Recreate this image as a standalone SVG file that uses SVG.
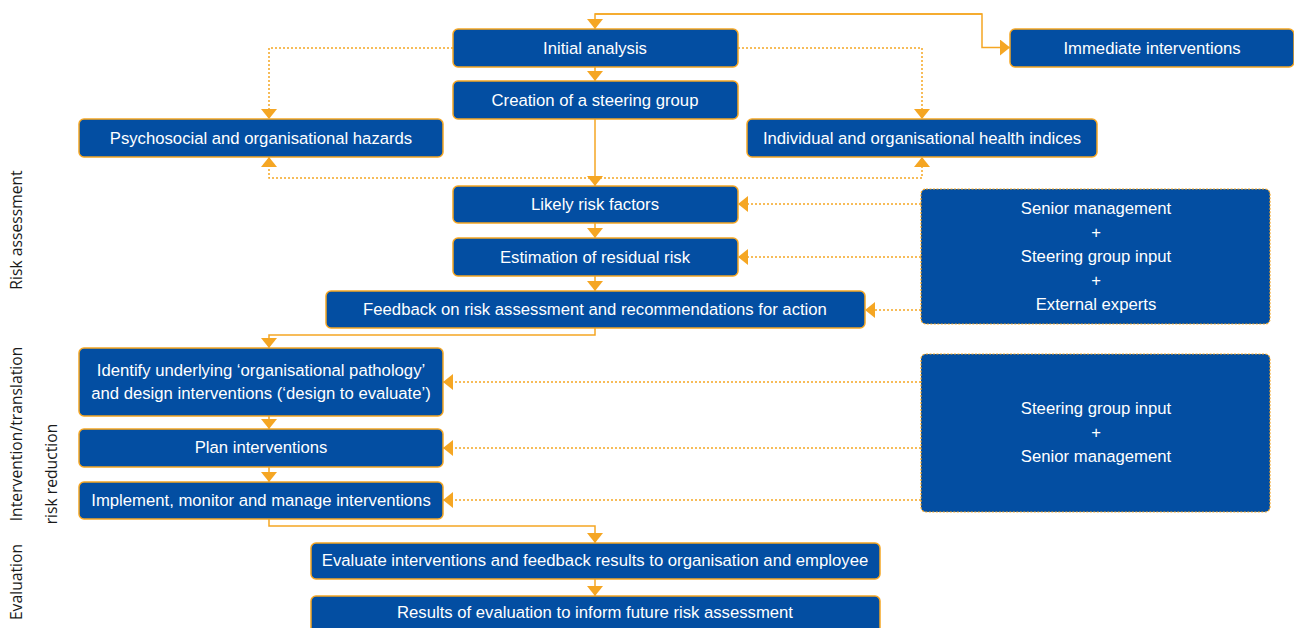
<svg xmlns="http://www.w3.org/2000/svg" width="1294" height="628" viewBox="0 0 1294 628">
<style>
.box{fill:#034EA2;stroke:#F5A623;stroke-width:1.5}
.src{fill:#034EA2;stroke:#F5A623;stroke-width:1.2;stroke-dasharray:2 1.5}
.t{font-family:"Liberation Sans",Arial,sans-serif;font-size:16.7px;fill:#ffffff;text-anchor:middle}
.side{font-family:"Open Sans","Noto Sans",sans-serif;font-size:15.7px;fill:#1a1a1a;text-anchor:middle}
.s{fill:none;stroke:#F5A623;stroke-width:1.5}
.d{fill:none;stroke:#F5A623;stroke-width:1.5;stroke-dasharray:2 2}
</style>
<defs>
<marker id="a" markerUnits="userSpaceOnUse" viewBox="0 0 10 16" markerWidth="10" markerHeight="16" refX="10" refY="8" orient="auto">
<path d="M0,0 L10,8 L0,16 z" fill="#F5A623"/>
</marker>
<marker id="as" markerUnits="userSpaceOnUse" viewBox="0 0 10 16" markerWidth="10" markerHeight="16" refX="10" refY="8" orient="auto-start-reverse">
<path d="M0,0 L10,8 L0,16 z" fill="#F5A623"/>
</marker>
</defs>

<g id="side-labels">
<text class="side" transform="translate(22,230) rotate(-90)">Risk assessment</text>
<text class="side" transform="translate(22,434) rotate(-90)">Intervention/translation</text>
<text class="side" transform="translate(57,474) rotate(-90)">risk reduction</text>
<text class="side" transform="translate(22,582) rotate(-90)">Evaluation</text>
</g>

<g id="connectors">
<path class="s" d="M982,14 H595 V29" marker-end="url(#a)"/>
<path class="s" d="M595,14 H982 V47.5 H1010" marker-end="url(#a)"/>
<path class="s" d="M595,67 V81" marker-end="url(#a)"/>
<path class="d" d="M453,48 H269 V119" marker-end="url(#a)"/>
<path class="d" d="M738,48 H922 V119" marker-end="url(#a)"/>
<path class="s" d="M595,119 V186" marker-end="url(#a)"/>
<path class="d" d="M269,157 V178 H922 V157" marker-start="url(#as)" marker-end="url(#a)"/>
<path class="s" d="M595,223 V238" marker-end="url(#a)"/>
<path class="s" d="M595,276 V291" marker-end="url(#a)"/>
<path class="d" d="M921,204 H738" marker-end="url(#a)"/>
<path class="d" d="M921,257 H738" marker-end="url(#a)"/>
<path class="d" d="M921,310 H865" marker-end="url(#a)"/>
<path class="s" d="M595,328 V335 H269 V348" marker-end="url(#a)"/>
<path class="s" d="M269,416 V429" marker-end="url(#a)"/>
<path class="s" d="M269,467 V482" marker-end="url(#a)"/>
<path class="d" d="M921,382 H443" marker-end="url(#a)"/>
<path class="d" d="M921,448 H443" marker-end="url(#a)"/>
<path class="d" d="M921,500 H443" marker-end="url(#a)"/>
<path class="s" d="M269,519 V526 H595 V543" marker-end="url(#a)"/>
<path class="s" d="M595,579 V596" marker-end="url(#a)"/>
</g>

<g id="initial-analysis"><rect class="box" x="453" y="29" width="285" height="38" rx="5"/><text class="t" x="595" y="53.5">Initial analysis</text></g>
<g id="immediate-interventions"><rect class="box" x="1010" y="29" width="284" height="38" rx="5"/><text class="t" x="1152" y="53.5">Immediate interventions</text></g>
<g id="steering-group"><rect class="box" x="453" y="81" width="285" height="38" rx="5"/><text class="t" x="595" y="106">Creation of a steering group</text></g>
<g id="psychosocial"><rect class="box" x="79" y="119" width="364" height="38" rx="5"/><text class="t" x="261" y="144">Psychosocial and organisational hazards</text></g>
<g id="health-indices"><rect class="box" x="747" y="119" width="350" height="38" rx="5"/><text class="t" x="922" y="144">Individual and organisational health indices</text></g>
<g id="likely-risk"><rect class="box" x="453" y="186" width="285" height="37" rx="5"/><text class="t" x="595" y="209.5">Likely risk factors</text></g>
<g id="residual-risk"><rect class="box" x="453" y="238" width="285" height="38" rx="5"/><text class="t" x="595" y="262.5">Estimation of residual risk</text></g>
<g id="feedback"><rect class="box" x="326" y="291" width="539" height="37" rx="5"/><text class="t" x="595" y="315">Feedback on risk assessment and recommendations for action</text></g>
<g id="inputs-1"><rect class="src" x="921" y="189" width="349" height="135" rx="5"/>
<text class="t" x="1096" y="214">Senior management</text>
<text class="t" x="1096" y="238">+</text>
<text class="t" x="1096" y="262">Steering group input</text>
<text class="t" x="1096" y="286">+</text>
<text class="t" x="1096" y="310">External experts</text></g>
<g id="identify"><rect class="box" x="79" y="348" width="364" height="68" rx="5"/>
<text class="t" x="261" y="376">Identify underlying ‘organisational pathology’</text>
<text class="t" x="261" y="399">and design interventions (‘design to evaluate’)</text></g>
<g id="plan"><rect class="box" x="79" y="429" width="364" height="38" rx="5"/><text class="t" x="261" y="453">Plan interventions</text></g>
<g id="implement"><rect class="box" x="79" y="482" width="364" height="37" rx="5"/><text class="t" x="261" y="506">Implement, monitor and manage interventions</text></g>
<g id="inputs-2"><rect class="src" x="921" y="354" width="349" height="158" rx="5"/>
<text class="t" x="1096" y="414">Steering group input</text>
<text class="t" x="1096" y="438">+</text>
<text class="t" x="1096" y="462">Senior management</text></g>
<g id="evaluate"><rect class="box" x="311" y="543" width="569" height="36" rx="5"/><text class="t" x="595" y="566">Evaluate interventions and feedback results to organisation and employee</text></g>
<g id="results"><rect class="box" x="311" y="596" width="569" height="40" rx="5"/><text class="t" x="595" y="618">Results of evaluation to inform future risk assessment</text></g>
</svg>
